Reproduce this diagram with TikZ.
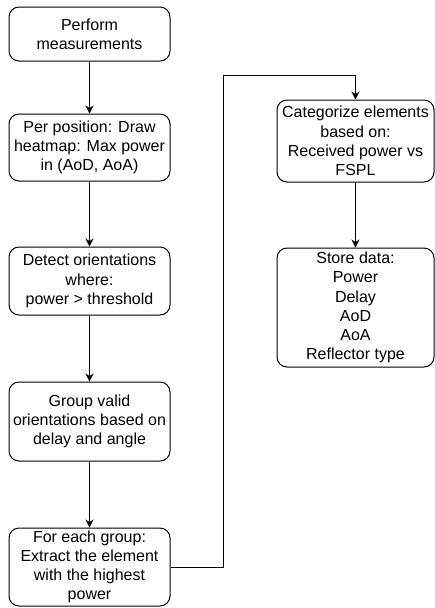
\documentclass[tikz,border=0pt]{standalone}
\usepackage{fontspec}
\setmainfont{Liberation Sans}
\usetikzlibrary{arrows.meta,positioning}

\begin{document}
\begin{tikzpicture}[x=0.75pt,y=-0.75pt]
	\tikzstyle{step box} = [rectangle, draw, line width=0.75pt, rounded corners=7.5pt, align=center, inner sep=2pt, font=\fontsize{12}{14.4}\selectfont]
	\tikzstyle{flow} = [draw, line width=0.75pt, -{Stealth[length=6pt,width=6pt]}]

	\useasboundingbox (0,0) rectangle (435,608);

	% left column
	\node [step box, minimum width=120.75pt, minimum height=40.5pt]  (meas)    at (89.5,34)    {Perform\\measurements};
	\node [step box, minimum width=120.75pt, minimum height=50.25pt] (heatmap) at (89.5,147.5) {Per position: Draw\\heatmap: Max power\\in (AoD, AoA)};
	\node [step box, minimum width=120.75pt, minimum height=51pt]    (detect)  at (89.5,281)   {Detect orientations\\where:\\power > threshold};
	\node [step box, minimum width=120.75pt, minimum height=59.25pt] (group)   at (89.5,421.5) {Group valid\\orientations based on\\delay and angle};
	\node [step box, minimum width=120.75pt, minimum height=58.5pt]  (extract) at (89.5,567)   {For each group:\\Extract the element\\with the highest\\power};

	% right column
	\node [step box, minimum width=117.75pt, minimum height=61.5pt]  (categ)   at (355.5,141)  {Categorize elements\\based on:\\Received power vs\\FSPL};
	\node [step box, minimum width=117.75pt, minimum height=89.25pt] (store)   at (355.5,307.5) {Store data:\\Power\\Delay\\AoD\\AoA\\Reflector type};

	\coordinate (turn) at (223,75);

	% connectors
	\path [flow] (meas) -- (heatmap);
	\path [flow] (heatmap) -- (detect);
	\path [flow] (detect) -- (group);
	\path [flow] (group) -- (extract);
	\path [flow] (extract.east) -| (turn) -| (categ.north);
	\path [flow] (categ) -- (store);
\end{tikzpicture}
\end{document}
